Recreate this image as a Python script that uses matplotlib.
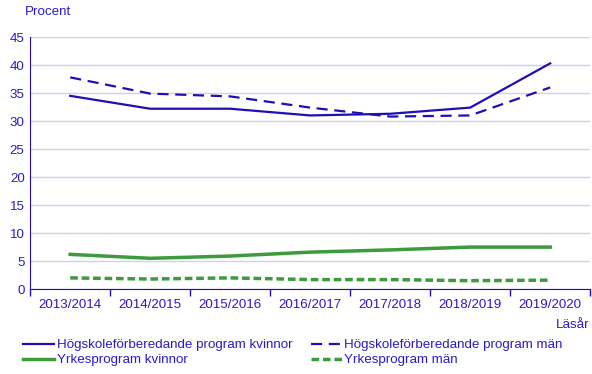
import matplotlib.pyplot as plt
import numpy as np

plt.rcParams['font.family'] = ['Liberation Sans', 'DejaVu Sans']

years = ['2013/2014', '2014/2015', '2015/2016', '2016/2017', '2017/2018', '2018/2019', '2019/2020']
hogsk_kvinnor = [34.5, 32.2, 32.2, 31.0, 31.3, 32.4, 40.3]
hogsk_man = [37.8, 34.9, 34.4, 32.4, 30.8, 31.0, 36.0]
yrkes_kvinnor = [6.2, 5.5, 5.9, 6.6, 7.0, 7.5, 7.5]
yrkes_man = [2.0, 1.8, 2.0, 1.7, 1.7, 1.5, 1.6]

blue = '#1f0fb4'
green = '#3d9a3d'
text_col = '#2a1acc'
fs = 9.6

fig = plt.figure(figsize=(5.92, 3.74), dpi=100)
ax = fig.add_axes([0.051, 0.227, 0.946, 0.674])

x = np.arange(len(years))
l1, = ax.plot(x, hogsk_kvinnor, color=blue, lw=1.6, label='Högskoleförberedande program kvinnor')
l2, = ax.plot(x, hogsk_man, color=blue, lw=1.6, ls=(0, (5, 3)), label='Högskoleförberedande program män')
l3, = ax.plot(x, yrkes_kvinnor, color=green, lw=2.5, label='Yrkesprogram kvinnor')
l4, = ax.plot(x, yrkes_man, color=green, lw=2.5, ls=(0, (2.2, 1.1)), label='Yrkesprogram män')

ax.set_xlim(-0.5, len(years) - 0.5)
ax.set_ylim(0, 45)
ax.set_yticks(range(0, 46, 5))
ax.set_xticks(x)
ax.set_xticklabels(years)
ax.set_xticks(np.arange(-0.5, len(years), 1), minor=True)
ax.tick_params(axis='x', which='major', length=0, pad=7, labelsize=fs, colors=text_col)
ax.tick_params(axis='x', which='minor', length=5, color=blue, width=1)
ax.tick_params(axis='y', length=0, pad=4, labelsize=fs, colors=text_col)
ax.grid(axis='y', color='#d0cfec', lw=1)
ax.set_axisbelow(True)
for s in ['top', 'right']:
    ax.spines[s].set_visible(False)
ax.spines['left'].set_color(blue)
ax.spines['bottom'].set_color(blue)

fig.text(0.042, 0.967, 'Procent', color=text_col, fontsize=fs, va='center', ha='left')
fig.text(0.996, 0.13, 'Läsår', color=text_col, fontsize=fs, va='center', ha='right')

handles = [l1, l3, l2, l4]
fig.legend(handles, [h.get_label() for h in handles], loc='upper left',
           bbox_to_anchor=(0.028, 0.111), ncol=2, frameon=False,
           fontsize=fs, labelcolor=text_col, handlelength=2.3, handletextpad=0.2,
           columnspacing=1.4, labelspacing=0.2, borderpad=0)

fig.savefig('out.png', dpi=100)
